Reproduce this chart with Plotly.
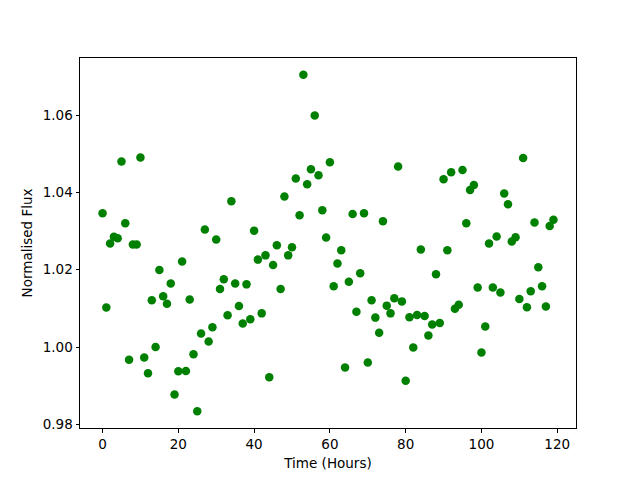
import plotly.graph_objects as go

hours = list(range(120))
flux = [
    1.0346, 1.0102, 1.0268, 1.0285, 1.0281, 1.0480, 1.0320, 0.9967, 1.0265, 1.0265,
    1.0490, 0.9973, 0.9932, 1.0121, 1.0000, 1.0199, 1.0131, 1.0112, 1.0164, 0.9877,
    0.9937, 1.0221, 0.9938, 1.0123, 0.9981, 0.9834, 1.0035, 1.0304, 1.0014, 1.0051,
    1.0278, 1.0150, 1.0175, 1.0082, 1.0377, 1.0164, 1.0106, 1.0061, 1.0162, 1.0072,
    1.0301, 1.0226, 1.0087, 1.0237, 0.9922, 1.0212, 1.0263, 1.0150, 1.0389, 1.0237,
    1.0258, 1.0436, 1.0341, 1.0704, 1.0421, 1.0460, 1.0599, 1.0444, 1.0354, 1.0283,
    1.0478, 1.0157, 1.0216, 1.0250, 0.9947, 1.0169, 1.0344, 1.0091, 1.0191, 1.0346,
    0.9960, 1.0121, 1.0076, 1.0037, 1.0325, 1.0107, 1.0087, 1.0126, 1.0467, 1.0118,
    0.9913, 1.0077, 0.9999, 1.0083, 1.0252, 1.0080, 1.0030, 1.0058, 1.0188, 1.0062,
    1.0434, 1.0250, 1.0452, 1.0099, 1.0109, 1.0458, 1.0320, 1.0406, 1.0419, 1.0154,
    0.9986, 1.0053, 1.0268, 1.0154, 1.0286, 1.0141, 1.0397, 1.0369, 1.0273, 1.0284,
    1.0124, 1.0489, 1.0103, 1.0144, 1.0322, 1.0206, 1.0157, 1.0105, 1.0313, 1.0329,
]
x_ticks = [0, 20, 40, 60, 80, 100, 120]
y_ticks = [0.98, 1.00, 1.02, 1.04, 1.06]

fig = go.Figure(go.Scatter(
    x=hours, y=flux, mode="markers",
    marker=dict(color="#008000", size=8.5, line=dict(width=0)),
))

FS = 13.5
axis_common = dict(
    showgrid=False, zeroline=False, showline=True, mirror=True,
    linecolor="black", linewidth=1, ticks="outside", ticklen=3.5,
    tickwidth=1, tickcolor="black",
    tickfont=dict(family="DejaVu Sans", size=FS, color="black"),
)

fig.update_layout(
    width=632, height=472,
    margin=dict(l=72, r=64, t=50, b=52),
    paper_bgcolor="white", plot_bgcolor="white",
    showlegend=False,
    font=dict(family="DejaVu Sans", size=FS, color="black"),
    xaxis=dict(range=[-5.95, 124.95], tickvals=x_ticks,
               title=dict(text="Time (Hours)", standoff=7,
                          font=dict(family="DejaVu Sans", size=FS, color="black")),
               **axis_common),
    yaxis=dict(range=[0.97905, 1.07475], tickvals=y_ticks, tickformat=".2f",
               title=dict(text="Normalised Flux", standoff=7,
                          font=dict(family="DejaVu Sans", size=FS, color="black")),
               **axis_common),
)

fig.write_html("out.html")
